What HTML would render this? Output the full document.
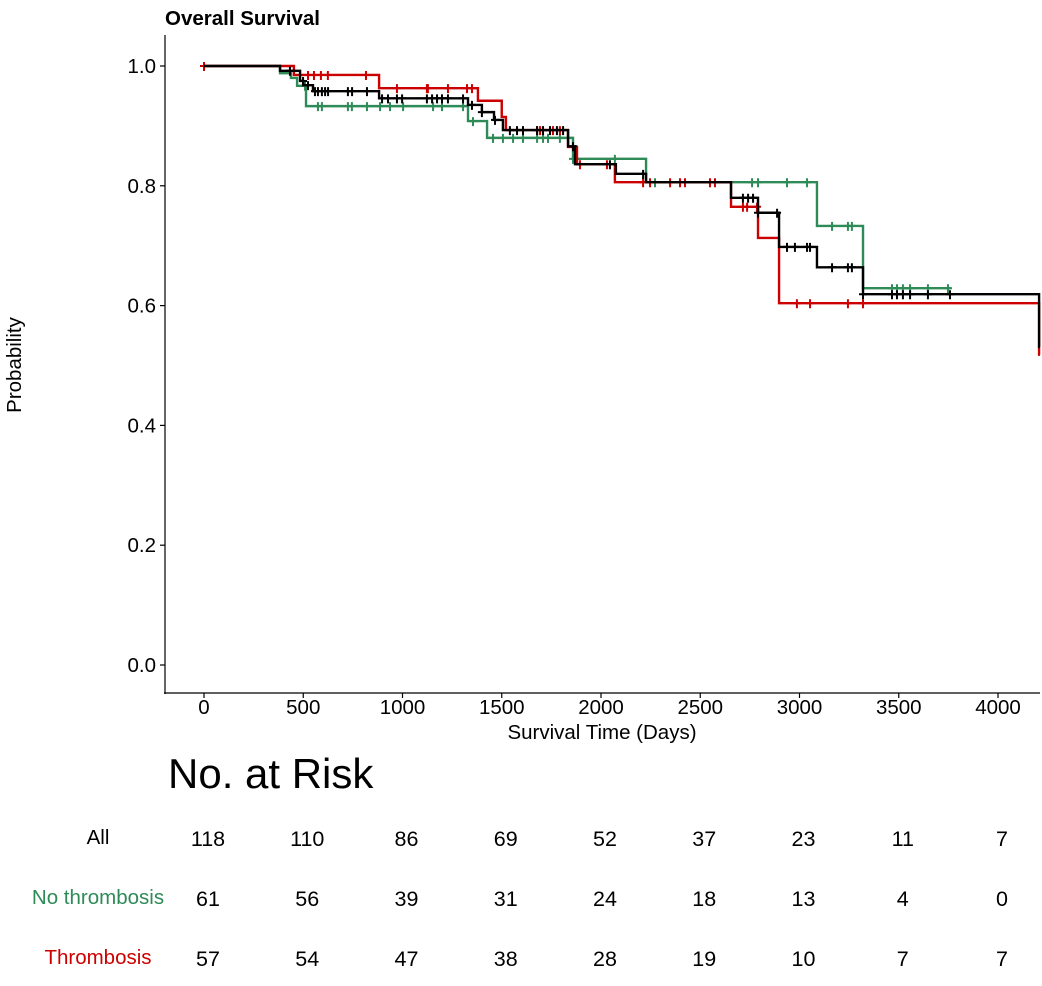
<!DOCTYPE html>
<html><head><meta charset="utf-8">
<style>
body{margin:0;background:#fff;}
svg{display:block;font-family:"Liberation Sans",Arial,sans-serif;}
</style></head>
<body>
<svg id="chart" width="1042" height="986" viewBox="0 0 1042 986" xmlns="http://www.w3.org/2000/svg">
<text x="165" y="25" font-size="20.5" font-weight="bold">Overall Survival</text>
<text transform="translate(21,365) rotate(-90)" text-anchor="middle" font-size="20.5">Probability</text>
<text x="602" y="739" text-anchor="middle" font-size="20.5">Survival Time (Days)</text>
<line x1="165" y1="35" x2="165" y2="694" stroke="#000" stroke-width="1.2"/>
<line x1="164" y1="693" x2="1040" y2="693" stroke="#000" stroke-width="1.2"/>
<g id="ticks"></g>
<g id="curves"></g>
<text x="168" y="788" font-size="42">No. at Risk</text>
<g id="risk"></g>
</svg>
<script>
const xTicks=[0,500,1000,1500,2000,2500,3000,3500,4000];
const yTicks=[0,0.2,0.4,0.6,0.8,1.0];
// step functions: [time, survival after]
const redSteps=[[0,1.0],[453,0.985],[882,0.963],[1380,0.942],[1500,0.915],[1521,0.893],[1834,0.865],[1879,0.836],[2070,0.806],[2655,0.765],[2791,0.713],[2897,0.604],[4207,0.518]];
const greenSteps=[[0,1.0],[383,0.988],[438,0.98],[469,0.967],[514,0.933],[1330,0.908],[1426,0.880],[1859,0.845],[2227,0.806],[3088,0.733],[3320,0.629]];
const blackSteps=[[0,1.0],[383,0.992],[484,0.975],[500,0.968],[549,0.958],[882,0.946],[1330,0.935],[1400,0.923],[1461,0.910],[1506,0.893],[1834,0.866],[1869,0.836],[2075,0.820],[2227,0.806],[2655,0.780],[2791,0.755],[2897,0.698],[3088,0.664],[3320,0.619],[4207,0.531]];
const redEnd=4212, greenEnd=3763, blackEnd=4212;
const redCens=[0,524,554,589,624,816,972,1123,1128,1229,1325,1350,1678,1693,1758,1793,1894,2030,2212,2247,2348,2398,2423,2549,2574,2715,2736,2786,2987,3053,3244,3320];
const greenCens=[509,574,594,725,745,821,887,937,1003,1154,1199,1305,1355,1456,1506,1557,1607,1678,1708,1733,1793,1859,2070,2272,2761,2791,2937,3038,3164,3244,3264,3466,3491,3521,3557,3647,3748];
const blackCens=[433,499,524,559,574,594,610,625,725,746,821,897,927,972,998,1123,1149,1174,1199,1229,1305,1350,1400,1466,1541,1577,1607,1678,1708,1743,1778,1809,1859,2045,2212,2715,2741,2766,2791,2887,2937,2977,3038,3053,3164,3244,3264,3320,3466,3491,3521,3557,3647,3758];
const riskTimes=[0,500,1000,1500,2000,2500,3000,3500,4000];
const riskAll=[118,110,86,69,52,37,23,11,7];
const riskNo=[61,56,39,31,24,18,13,4,0];
const riskThr=[57,54,47,38,28,19,10,7,7];

const NS="http://www.w3.org/2000/svg";
const X=d=>204+d*0.1985;
const Y=v=>665-v*599;
function mk(tag,attrs,parent){const e=document.createElementNS(NS,tag);for(const k in attrs)e.setAttribute(k,attrs[k]);parent.appendChild(e);return e;}
const tg=document.getElementById('ticks');
xTicks.forEach(t=>{
  const l=mk('line',{x1:X(t),x2:X(t),y1:693,y2:698,stroke:'#000','stroke-width':1.2},tg);
  
  
  const tx=mk('text',{x:X(t),y:714,'text-anchor':'middle','font-size':20.5},tg);
  tx.textContent=t;
  
  
});
yTicks.forEach(t=>{
  const l=mk('line',{x1:160,x2:165,y1:Y(t),y2:Y(t),stroke:'#000','stroke-width':1.2},tg);
  
  
  const tx=mk('text',{x:156,y:Y(t)+7,'text-anchor':'end','font-size':20.5},tg);
  tx.textContent=t.toFixed(1);
  
  
});
function survAt(steps,t){let v=steps[0][1];for(const s of steps){if(s[0]<=t)v=s[1];}return v;}
const cg=document.getElementById('curves');
function drawCurve(steps,end,cens,color,name){
  let d='M'+X(steps[0][0])+','+Y(steps[0][1]);
  for(let i=1;i<steps.length;i++){d+=' H'+X(steps[i][0])+' V'+Y(steps[i][1]);}
  d+=' H'+Math.min(X(end),1040);
  const p=mk('path',{d:d,fill:'none',stroke:color,'stroke-width':2.4},cg);
  
  
  cens.forEach(c=>{
    const x=X(c),y=Y(survAt(steps,c));
    const m=mk('path',{d:`M${x-4},${y} H${x+4} M${x},${y-4} V${y+5}`,stroke:color,'stroke-width':2},cg);
    
    
  });
}
drawCurve(greenSteps,greenEnd,greenCens,'#2e8b57','no-thrombosis');
drawCurve(redSteps,redEnd,redCens,'#cc0000','thrombosis');
drawCurve(blackSteps,blackEnd,blackCens,'#000000','all');
const rg=document.getElementById('risk');
const rows=[['All','#000',riskAll,846,'all'],['No thrombosis','#2e8b57',riskNo,906,'no-thrombosis'],['Thrombosis','#cc0000',riskThr,966,'thrombosis']];
rows.forEach(r=>{
  const lb=mk('text',{x:98,y:r[3]-2,'text-anchor':'middle','font-size':20.5,fill:r[1]},rg);
  lb.textContent=r[0];
  
  
  r[2].forEach((v,i)=>{
    const t=mk('text',{x:X(riskTimes[i])+4,y:r[3],'text-anchor':'middle','font-size':21.5},rg);
    t.textContent=v;
    
    
  });
});
</script>
</body></html>
